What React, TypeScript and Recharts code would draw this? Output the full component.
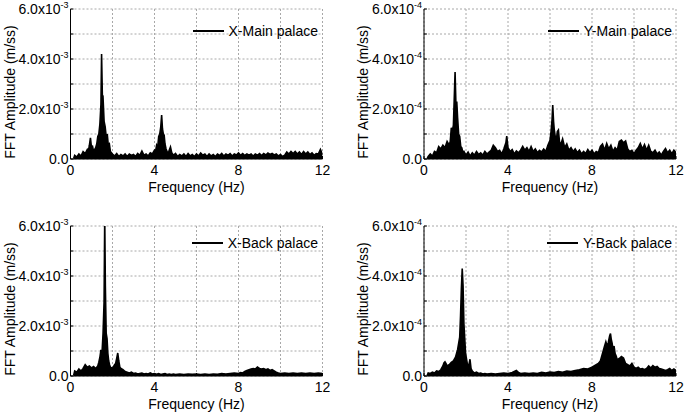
import { Area, AreaChart, CartesianGrid, Label, Legend, XAxis, YAxis } from "recharts";

type Pt = [number, number];

const FONT = '"Liberation Sans", Arial, sans-serif';

const FREQ_TICKS = [0, 2, 4, 6, 8, 10, 12];
const FREQ_LABELS = [0, 4, 8, 12];
const AMP_TICKS = [0, 1, 2, 3, 4, 5, 6];
const AMP_LABELS = [0, 2, 4, 6];

// [frequency Hz, amplitude] — X panels in x10^-3 m/ss, Y panels in x10^-4 m/ss
const X_MAIN: Pt[] = [
  [0.15, 0.02], [0.2, 0.15], [0.3, 0.08], [0.4, 0.2], [0.5, 0.12], [0.6, 0.3], [0.7, 0.22], [0.8, 0.38],
  [0.85, 0.3], [0.9, 0.55], [0.95, 0.85], [1.0, 0.45], [1.05, 0.5], [1.1, 0.3], [1.2, 0.45], [1.25, 0.6],
  [1.3, 0.9], [1.35, 1.0], [1.4, 1.4], [1.45, 2.2], [1.48, 4.2], [1.52, 2.4], [1.55, 2.45], [1.6, 1.5],
  [1.65, 1.3], [1.7, 0.9], [1.75, 1.0], [1.8, 0.55], [1.85, 0.6], [1.9, 0.3], [2.0, 0.2], [2.1, 0.12],
  [2.2, 0.22], [2.3, 0.1], [2.4, 0.18], [2.5, 0.12], [2.6, 0.2], [2.7, 0.1], [2.8, 0.2], [2.9, 0.14],
  [3.0, 0.18], [3.1, 0.1], [3.2, 0.22], [3.3, 0.15], [3.4, 0.32], [3.5, 0.15], [3.6, 0.2], [3.7, 0.12],
  [3.8, 0.25], [3.9, 0.2], [4.0, 0.35], [4.05, 0.3], [4.1, 0.55], [4.15, 0.45], [4.2, 0.9], [4.25, 1.0],
  [4.3, 1.3], [4.34, 1.76], [4.38, 1.2], [4.42, 1.0], [4.46, 0.95], [4.5, 0.6], [4.55, 0.4], [4.6, 0.3],
  [4.65, 0.2], [4.7, 0.35], [4.76, 0.48], [4.82, 0.25], [4.9, 0.15], [5.0, 0.22], [5.1, 0.1], [5.2, 0.18],
  [5.3, 0.12], [5.4, 0.2], [5.5, 0.1], [5.6, 0.22], [5.7, 0.12], [5.8, 0.18], [5.9, 0.1], [6.0, 0.2],
  [6.1, 0.12], [6.2, 0.24], [6.3, 0.15], [6.4, 0.2], [6.5, 0.1], [6.6, 0.2], [6.7, 0.12], [6.8, 0.18],
  [6.9, 0.1], [7.0, 0.2], [7.1, 0.14], [7.2, 0.22], [7.3, 0.12], [7.4, 0.2], [7.5, 0.15], [7.6, 0.22],
  [7.7, 0.12], [7.8, 0.2], [7.9, 0.16], [8.0, 0.24], [8.1, 0.15], [8.2, 0.22], [8.3, 0.14], [8.4, 0.2],
  [8.5, 0.15], [8.6, 0.2], [8.7, 0.12], [8.8, 0.2], [8.9, 0.15], [9.0, 0.22], [9.1, 0.14], [9.2, 0.22],
  [9.3, 0.16], [9.4, 0.24], [9.5, 0.18], [9.6, 0.22], [9.7, 0.16], [9.8, 0.2], [9.9, 0.12], [10.0, 0.18],
  [10.1, 0.1], [10.2, 0.15], [10.3, 0.28], [10.4, 0.2], [10.5, 0.3], [10.6, 0.22], [10.7, 0.3], [10.8, 0.2],
  [10.9, 0.28], [11.0, 0.18], [11.1, 0.3], [11.2, 0.2], [11.3, 0.28], [11.4, 0.18], [11.5, 0.25], [11.6, 0.15],
  [11.7, 0.22], [11.8, 0.2], [11.9, 0.38], [12.0, 0.18],
];

const Y_MAIN: Pt[] = [
  [0.15, 0.02], [0.2, 0.1], [0.3, 0.2], [0.4, 0.12], [0.5, 0.3], [0.6, 0.25], [0.7, 0.5], [0.8, 0.4],
  [0.9, 0.55], [1.0, 0.45], [1.1, 0.7], [1.2, 0.55], [1.25, 0.7], [1.3, 1.25], [1.35, 1.1], [1.4, 1.35],
  [1.44, 2.4], [1.48, 3.48], [1.52, 2.2], [1.56, 2.3], [1.6, 1.65], [1.65, 1.0], [1.7, 0.9], [1.75, 0.5],
  [1.8, 0.45], [1.85, 0.25], [1.9, 0.3], [2.0, 0.15], [2.1, 0.28], [2.2, 0.12], [2.3, 0.25], [2.4, 0.15],
  [2.5, 0.3], [2.6, 0.18], [2.7, 0.25], [2.8, 0.15], [2.9, 0.3], [3.0, 0.2], [3.1, 0.28], [3.2, 0.35],
  [3.3, 0.55], [3.4, 0.45], [3.5, 0.3], [3.6, 0.35], [3.7, 0.2], [3.8, 0.4], [3.9, 0.65], [3.94, 0.92],
  [4.0, 0.45], [4.1, 0.3], [4.2, 0.38], [4.3, 0.2], [4.4, 0.32], [4.5, 0.25], [4.6, 0.35], [4.7, 0.5],
  [4.8, 0.35], [4.9, 0.45], [5.0, 0.3], [5.1, 0.5], [5.2, 0.3], [5.3, 0.4], [5.4, 0.25], [5.5, 0.35],
  [5.6, 0.28], [5.7, 0.4], [5.8, 0.3], [5.9, 0.55], [6.0, 0.75], [6.05, 1.1], [6.1, 1.6], [6.13, 2.16],
  [6.17, 1.5], [6.2, 1.2], [6.25, 0.9], [6.3, 0.75], [6.35, 1.1], [6.4, 1.16], [6.45, 0.7], [6.5, 0.55],
  [6.6, 0.8], [6.7, 0.45], [6.8, 0.6], [6.9, 0.35], [7.0, 0.45], [7.1, 0.3], [7.2, 0.4], [7.3, 0.25],
  [7.4, 0.35], [7.5, 0.2], [7.6, 0.3], [7.7, 0.22], [7.8, 0.38], [7.9, 0.25], [8.0, 0.35], [8.1, 0.2],
  [8.2, 0.3], [8.3, 0.25], [8.4, 0.5], [8.5, 0.6], [8.6, 0.35], [8.7, 0.62], [8.8, 0.4], [8.9, 0.55],
  [9.0, 0.3], [9.1, 0.45], [9.2, 0.35], [9.3, 0.7], [9.4, 0.76], [9.5, 0.65], [9.6, 0.72], [9.7, 0.4],
  [9.8, 0.3], [9.9, 0.35], [10.0, 0.2], [10.1, 0.35], [10.2, 0.45], [10.3, 0.62], [10.4, 0.4], [10.5, 0.58],
  [10.6, 0.35], [10.7, 0.55], [10.8, 0.3], [10.9, 0.25], [11.0, 0.35], [11.1, 0.2], [11.2, 0.28], [11.3, 0.15],
  [11.4, 0.3], [11.5, 0.42], [11.6, 0.25], [11.7, 0.35], [11.8, 0.2], [11.9, 0.35], [12.0, 0.25],
];

const X_BACK: Pt[] = [
  [0.15, 0.02], [0.2, 0.2], [0.3, 0.15], [0.4, 0.28], [0.5, 0.2], [0.6, 0.3], [0.7, 0.45], [0.8, 0.35],
  [0.9, 0.4], [1.0, 0.32], [1.1, 0.38], [1.2, 0.3], [1.3, 0.4], [1.35, 0.55], [1.4, 0.75], [1.45, 1.05],
  [1.5, 0.9], [1.55, 1.7], [1.6, 3.0], [1.63, 6.4], [1.66, 3.6], [1.7, 1.7], [1.74, 1.5], [1.78, 0.9],
  [1.82, 0.6], [1.86, 0.45], [1.9, 0.35], [2.0, 0.3], [2.1, 0.45], [2.15, 0.5], [2.2, 0.7], [2.25, 0.92],
  [2.3, 0.6], [2.35, 0.35], [2.4, 0.3], [2.5, 0.25], [2.6, 0.18], [2.7, 0.15], [2.8, 0.12], [2.9, 0.15],
  [3.0, 0.1], [3.1, 0.12], [3.2, 0.08], [3.3, 0.1], [3.4, 0.12], [3.5, 0.08], [3.6, 0.1], [3.7, 0.08],
  [3.8, 0.12], [3.9, 0.08], [4.0, 0.1], [4.1, 0.07], [4.2, 0.1], [4.3, 0.06], [4.4, 0.08], [4.5, 0.1],
  [4.6, 0.06], [4.7, 0.08], [4.8, 0.06], [4.9, 0.08], [5.0, 0.06], [5.2, 0.08], [5.4, 0.06], [5.6, 0.08],
  [5.8, 0.07], [6.0, 0.08], [6.2, 0.06], [6.4, 0.08], [6.6, 0.06], [6.8, 0.08], [7.0, 0.07], [7.2, 0.1],
  [7.4, 0.08], [7.6, 0.1], [7.8, 0.12], [8.0, 0.1], [8.1, 0.14], [8.2, 0.12], [8.3, 0.18], [8.4, 0.22],
  [8.5, 0.25], [8.6, 0.28], [8.7, 0.3], [8.8, 0.28], [8.9, 0.36], [9.0, 0.3], [9.1, 0.28], [9.2, 0.3],
  [9.3, 0.25], [9.4, 0.28], [9.5, 0.22], [9.6, 0.25], [9.7, 0.2], [9.8, 0.15], [9.9, 0.12], [10.0, 0.1],
  [10.2, 0.12], [10.4, 0.1], [10.6, 0.12], [10.8, 0.1], [11.0, 0.12], [11.2, 0.1], [11.4, 0.12], [11.6, 0.1],
  [11.8, 0.12], [12.0, 0.1],
];

const Y_BACK: Pt[] = [
  [0.15, 0.02], [0.2, 0.12], [0.3, 0.1], [0.4, 0.15], [0.5, 0.12], [0.6, 0.2], [0.7, 0.18], [0.8, 0.25],
  [0.9, 0.4], [0.95, 0.52], [1.0, 0.57], [1.05, 0.5], [1.1, 0.4], [1.2, 0.45], [1.3, 0.55], [1.4, 0.6],
  [1.5, 0.75], [1.55, 0.9], [1.6, 1.05], [1.65, 1.3], [1.7, 1.55], [1.74, 2.4], [1.78, 3.5], [1.82, 4.3],
  [1.86, 3.6], [1.9, 2.1], [1.94, 1.5], [1.98, 0.9], [2.02, 0.7], [2.08, 0.4], [2.14, 0.45], [2.19, 0.67],
  [2.24, 0.3], [2.3, 0.2], [2.4, 0.12], [2.5, 0.15], [2.6, 0.1], [2.7, 0.12], [2.8, 0.08], [2.9, 0.1],
  [3.0, 0.08], [3.2, 0.1], [3.4, 0.08], [3.6, 0.1], [3.8, 0.12], [4.0, 0.1], [4.2, 0.14], [4.4, 0.22],
  [4.5, 0.14], [4.6, 0.1], [4.8, 0.12], [5.0, 0.1], [5.2, 0.12], [5.4, 0.1], [5.6, 0.15], [5.8, 0.12],
  [6.0, 0.16], [6.2, 0.14], [6.4, 0.18], [6.6, 0.15], [6.8, 0.2], [7.0, 0.18], [7.2, 0.22], [7.4, 0.25],
  [7.6, 0.3], [7.8, 0.28], [8.0, 0.35], [8.1, 0.4], [8.2, 0.45], [8.3, 0.5], [8.4, 0.6], [8.5, 0.9],
  [8.6, 1.2], [8.66, 1.37], [8.72, 1.2], [8.78, 1.35], [8.84, 1.6], [8.88, 1.7], [8.92, 1.45], [8.96, 1.3],
  [9.0, 1.0], [9.05, 1.2], [9.1, 0.9], [9.15, 0.8], [9.2, 0.65], [9.3, 0.7], [9.4, 0.78], [9.5, 0.72],
  [9.6, 0.5], [9.7, 0.45], [9.8, 0.4], [9.9, 0.5], [10.0, 0.35], [10.1, 0.3], [10.2, 0.35], [10.3, 0.28],
  [10.4, 0.3], [10.5, 0.25], [10.6, 0.3], [10.7, 0.4], [10.8, 0.32], [10.9, 0.42], [11.0, 0.35], [11.1, 0.38],
  [11.2, 0.3], [11.3, 0.28], [11.4, 0.25], [11.5, 0.22], [11.6, 0.25], [11.7, 0.3], [11.8, 0.22], [11.9, 0.28],
  [12.0, 0.22],
];

const PANELS = [
  { name: "X-Main palace", points: X_MAIN, exp: "-3", left: 0, top: 0, axisW: 70.5, right: 22.5, legendTop: 23, legendRight: 27 },
  { name: "Y-Main palace", points: Y_MAIN, exp: "-4", left: 345, top: 0, axisW: 79, right: 14, legendTop: 23, legendRight: 18 },
  { name: "X-Back palace", points: X_BACK, exp: "-3", left: 0, top: 217, axisW: 70.5, right: 22.5, legendTop: 18, legendRight: 27 },
  { name: "Y-Back palace", points: Y_BACK, exp: "-4", left: 345, top: 217, axisW: 79, right: 14, legendTop: 18, legendRight: 18 },
];

const BottomTick = (p: any) => {
  const v = p.payload.value;
  return (
    <g>
      <line x1={p.x} x2={p.x} y1={p.y} y2={p.y - 3} stroke="#000" />
      {FREQ_LABELS.includes(v) ? (
        <text x={p.x} y={p.y + 16} textAnchor="middle" fontSize={14} fontFamily={FONT} fill="#000">
          {v}
        </text>
      ) : null}
    </g>
  );
};

const TopTick = (p: any) => (
  <line x1={p.x} x2={p.x} y1={p.y} y2={p.y + 3} stroke="#000" />
);

const RightTick = (p: any) => (
  <line x1={p.x - 3} x2={p.x} y1={p.y} y2={p.y} stroke="#000" />
);

function makeLeftTick(exp: string) {
  return (p: any) => {
    const v = p.payload.value;
    return (
      <g>
        <line x1={p.x} x2={p.x + 3} y1={p.y} y2={p.y} stroke="#000" />
        {AMP_LABELS.includes(v) ? (
          <text x={p.x - 2} y={p.y + 5} textAnchor="end" fontSize={14} fontFamily={FONT} fill="#000">
            {v === 0 ? (
              "0.0"
            ) : (
              <>
                {v.toFixed(1)}x10
                <tspan fontSize={9} dy={-6}>
                  {exp}
                </tspan>
              </>
            )}
          </text>
        ) : null}
      </g>
    );
  };
}

const yLabel = (p: any) => {
  const vb = p.viewBox;
  const cx = vb.x + vb.width - 61;
  const cy = vb.y + vb.height / 2 + 8;
  return (
    <text
      x={cx}
      y={cy}
      transform={`rotate(-90 ${cx} ${cy})`}
      textAnchor="middle"
      dominantBaseline="central"
      fontSize={14}
      fontFamily={FONT}
      fill="#000"
    >
      FFT Amplitude (m/ss)
    </text>
  );
};

const xLabel = (p: any) => {
  const vb = p.viewBox;
  return (
    <text x={vb.x + vb.width / 2} y={vb.y + 33} textAnchor="middle" fontSize={14} fontFamily={FONT} fill="#000">
      Frequency (Hz)
    </text>
  );
};

function Panel(props: (typeof PANELS)[number]) {
  const data = props.points.map(([f, a]) => ({ f, a }));
  return (
    <div style={{ position: "absolute", left: props.left, top: props.top }}>
      <AreaChart
        width={345}
        height={200}
        data={data}
        margin={{ top: 9, right: props.right, bottom: 0, left: 0 }}
      >
        <CartesianGrid stroke="#a8a8a8" strokeDasharray="2 2" />
        <Area
          dataKey="a"
          name={props.name}
          type="linear"
          stroke="#000"
          strokeWidth={1.6}
          strokeLinejoin="miter"
          fill="#000"
          fillOpacity={1}
          dot={false}
          activeDot={false}
          isAnimationActive={false}
        />
        <XAxis
          dataKey="f"
          type="number"
          domain={[0, 12]}
          allowDataOverflow
          ticks={FREQ_TICKS}
          interval={0}
          height={41}
          tickLine={false}
          tickSize={0}
          tickMargin={0}
          axisLine={{ stroke: "#000" }}
          tick={BottomTick}
        >
          <Label content={xLabel} />
        </XAxis>
        <XAxis
          xAxisId="top"
          orientation="top"
          type="number"
          domain={[0, 12]}
          allowDataOverflow
          ticks={FREQ_TICKS}
          interval={0}
          height={0}
          tickLine={false}
          tickSize={0}
          tickMargin={0}
          axisLine={{ stroke: "#000" }}
          tick={TopTick}
        />
        <YAxis
          type="number"
          domain={[0, 6]}
          allowDataOverflow
          ticks={AMP_TICKS}
          interval={0}
          width={props.axisW}
          tickLine={false}
          tickSize={0}
          tickMargin={0}
          axisLine={{ stroke: "#000" }}
          tick={makeLeftTick(props.exp)}
        >
          <Label content={yLabel} />
        </YAxis>
        <YAxis
          yAxisId="right"
          orientation="right"
          type="number"
          domain={[0, 6]}
          allowDataOverflow
          ticks={AMP_TICKS}
          interval={0}
          width={0}
          tickLine={false}
          tickSize={0}
          tickMargin={0}
          axisLine={{ stroke: "#000" }}
          tick={RightTick}
        />
        <Legend
          layout="horizontal"
          verticalAlign="middle"
          align="center"
          wrapperStyle={{
            top: props.legendTop,
            right: props.legendRight,
            left: "auto",
            bottom: "auto",
            width: "auto",
          }}
          content={(lp: any) => (
            <div style={{ display: "flex", alignItems: "center", fontFamily: FONT, fontSize: 14, lineHeight: "16px", color: "#000" }}>
              <span style={{ display: "inline-block", width: 31, height: 2, background: "#000", marginRight: 5 }} />
              <span>{lp.payload?.[0]?.value ?? props.name}</span>
            </div>
          )}
        />
      </AreaChart>
    </div>
  );
}

export default function App() {
  return (
    <div style={{ position: "absolute", left: 0, top: 0, width: 685, height: 413, background: "#fff", fontFamily: FONT }}>
      {PANELS.map((p) => (
        <Panel key={p.name} {...p} />
      ))}
    </div>
  );
}
